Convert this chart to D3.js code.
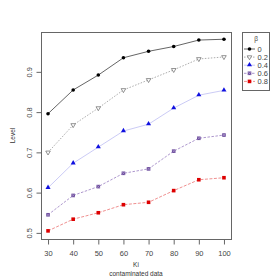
<!DOCTYPE html>
<html>
<head>
<meta charset="utf-8">
<script src="https://cdn.jsdelivr.net/npm/d3@7"></script>
<style>
  body { margin: 0; background: #fff; }
  text { font-family: "Liberation Sans", Arial, sans-serif; }
</style>
</head>
<body>
<div id="chart"></div>
<script>
// data
const ki = [30, 40, 50, 60, 70, 80, 90, 100];
const betas = ["0", "0.2", "0.4", "0.6", "0.8"];
const level0  = [0.796, 0.855, 0.892, 0.935, 0.951, 0.963, 0.979, 0.981];
const level02 = [0.700, 0.768, 0.810, 0.855, 0.880, 0.905, 0.932, 0.937];
const level04 = [0.612, 0.673, 0.713, 0.753, 0.770, 0.810, 0.842, 0.854];
const level06 = [0.545, 0.593, 0.615, 0.648, 0.659, 0.703, 0.735, 0.743];
const level08 = [0.505, 0.534, 0.550, 0.570, 0.576, 0.605, 0.632, 0.637];
const yTicks = [0.5, 0.6, 0.7, 0.8, 0.9];

const series = [
  { name: betas[0], values: level0,  line: "#222", dash: null,  shape: "circle" },
  { name: betas[1], values: level02, line: "#888", dash: "1.5,1.5", shape: "tridown" },
  { name: betas[2], values: level04, line: "#b4b4f0", dash: null, shape: "triup" },
  { name: betas[3], values: level06, line: "#8a6ab8", dash: "2.5,1.5", shape: "squarex" },
  { name: betas[4], values: level08, line: "#e86060", dash: "3,1.5", shape: "square" }
];

const width = 280, height = 280;
const margin = { top: 32, right: 49, bottom: 41, left: 41 };

const svg = d3.select("#chart").append("svg")
  .attr("width", width).attr("height", height);

const x = d3.scaleLinear()
  .domain([27.2, 102.8])
  .range([margin.left, width - margin.right]);

const y = d3.scaleLinear()
  .domain([0.4848, 0.9990])
  .range([height - margin.bottom, margin.top]);

// box
svg.append("rect")
  .attr("x", margin.left + 0.5).attr("y", margin.top + 0.5)
  .attr("width", width - margin.left - margin.right)
  .attr("height", height - margin.top - margin.bottom)
  .attr("fill", "none").attr("stroke", "#666");

// x axis
const xAxis = svg.append("g")
  .attr("transform", "translate(0," + (height - margin.bottom + 0.5) + ")")
  .call(d3.axisBottom(x).tickValues(ki).tickSize(5).tickPadding(6));
xAxis.select(".domain").remove();
xAxis.selectAll("line").attr("stroke", "#666");
xAxis.selectAll("text").attr("fill", "#444").attr("font-size", 7.5)
  .style("font-family", "Liberation Sans, Arial, sans-serif");

// y axis with rotated labels
const yAxis = svg.append("g")
  .attr("transform", "translate(" + (margin.left + 0.5) + ",0)")
  .call(d3.axisLeft(y).tickValues(yTicks).tickSize(5).tickFormat(d3.format(".1f")));
yAxis.select(".domain").remove();
yAxis.selectAll("line").attr("stroke", "#666");
yAxis.selectAll("text")
  .attr("fill", "#444").attr("font-size", 7.5)
  .style("font-family", "Liberation Sans, Arial, sans-serif")
  .attr("x", 0).attr("dy", null)
  .attr("text-anchor", "middle")
  .attr("transform", "translate(-12,0) rotate(-90)")
  .attr("dominant-baseline", "central");

// axis titles
svg.append("text")
  .attr("transform", "translate(12," + (margin.top + (height - margin.top - margin.bottom) / 2) + ") rotate(-90)")
  .attr("text-anchor", "middle").attr("dominant-baseline", "central")
  .attr("font-size", 6.5).attr("fill", "#333").text("Level");

const cx = margin.left + (width - margin.left - margin.right) / 2;
svg.append("text").attr("x", cx).attr("y", 267)
  .attr("text-anchor", "middle").attr("font-size", 6.5).attr("fill", "#333").text("Ki");
svg.append("text").attr("x", cx).attr("y", 276)
  .attr("text-anchor", "middle").attr("font-size", 6.5).attr("fill", "#333").text("contaminated data");

function marker(g, s, px, py) {
  if (s.shape === "circle") {
    g.append("circle").attr("cx", px).attr("cy", py).attr("r", 1.8).attr("fill", "#000");
  } else if (s.shape === "tridown") {
    g.append("path")
      .attr("d", d3.symbol().type(d3.symbolTriangle).size(9)())
      .attr("transform", "translate(" + px + "," + py + ") rotate(180)")
      .attr("fill", "#fff").attr("stroke", "#666").attr("stroke-width", 0.7);
  } else if (s.shape === "triup") {
    g.append("path")
      .attr("d", d3.symbol().type(d3.symbolTriangle).size(11)())
      .attr("transform", "translate(" + px + "," + (py - 0.3) + ")")
      .attr("fill", "#1010e0");
  } else if (s.shape === "squarex") {
    g.append("rect").attr("x", px - 1.8).attr("y", py - 1.8).attr("width", 3.6).attr("height", 3.6)
      .attr("fill", "#6a4a9a");
    g.append("path")
      .attr("d", "M" + (px - 1.4) + "," + (py - 1.4) + "L" + (px + 1.4) + "," + (py + 1.4) +
                 "M" + (px + 1.4) + "," + (py - 1.4) + "L" + (px - 1.4) + "," + (py + 1.4))
      .attr("stroke", "#b9a6d6").attr("stroke-width", 0.6);
  } else {
    g.append("rect").attr("x", px - 1.8).attr("y", py - 1.8).attr("width", 3.6).attr("height", 3.6)
      .attr("fill", "#dd0000");
  }
}

const line = d3.line().x((d, i) => x(ki[i])).y(d => y(d));

series.forEach(s => {
  svg.append("path")
    .datum(s.values)
    .attr("d", line)
    .attr("fill", "none")
    .attr("stroke", s.line)
    .attr("stroke-width", 0.7)
    .attr("stroke-dasharray", s.dash);
  const g = svg.append("g");
  s.values.forEach((v, i) => marker(g, s, x(ki[i]), y(v)));
});

// legend
const lg = svg.append("g");
lg.append("rect").attr("x", 242.5).attr("y", 32.5).attr("width", 27).attr("height", 58)
  .attr("fill", "#fff").attr("stroke", "#666");
lg.append("text").attr("x", 256).attr("y", 38.5).attr("text-anchor", "middle")
  .attr("dominant-baseline", "central").attr("font-size", 6.5).attr("fill", "#444").text("β");
series.forEach((s, i) => {
  const ly = 49 + i * 8.1;
  lg.append("line").attr("x1", 244).attr("x2", 255).attr("y1", ly).attr("y2", ly)
    .attr("stroke", s.line).attr("stroke-width", 0.7).attr("stroke-dasharray", s.dash);
  marker(lg, s, 249.5, ly);
  lg.append("text").attr("x", 257.5).attr("y", ly).attr("dominant-baseline", "central")
    .attr("font-size", 7.5).attr("fill", "#444").text(s.name);
});
</script>
</body>
</html>
